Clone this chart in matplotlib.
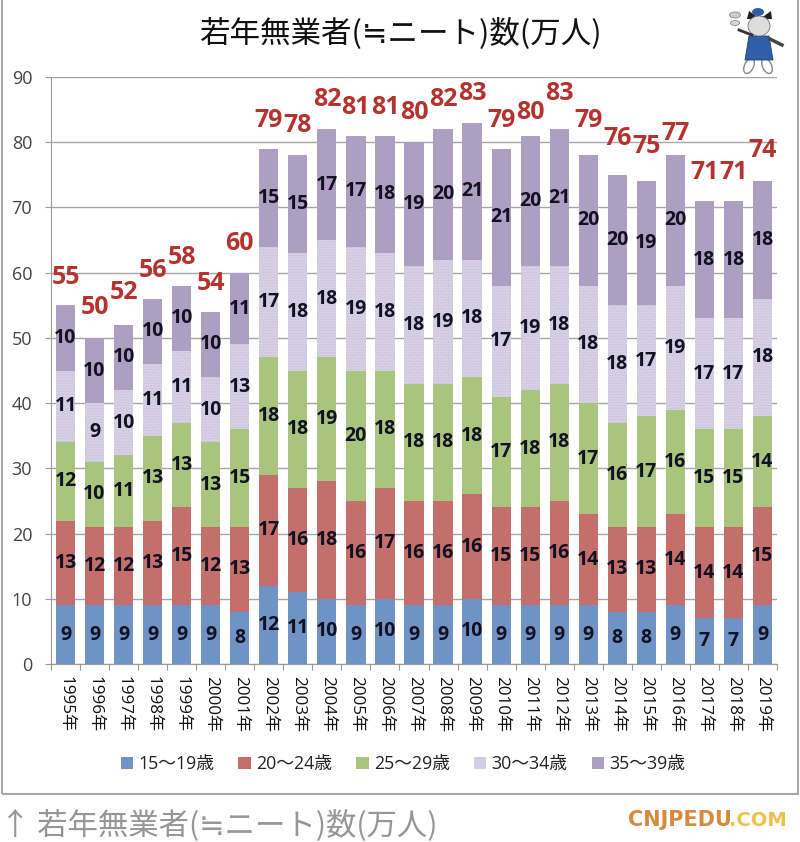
import numpy as np
import matplotlib
matplotlib.use("Agg")
import matplotlib.pyplot as plt
from matplotlib.patches import Rectangle, Ellipse, Polygon

plt.rcParams['font.family'] = ['Open Sans', 'Noto Sans CJK JP', 'DejaVu Sans']
plt.rcParams['hatch.linewidth'] = 0.4

years = [f'{y}年' for y in range(1995, 2020)]
age_15_19 = [9, 9, 9, 9, 9, 9, 8, 12, 11, 10, 9, 10, 9, 9, 10, 9, 9, 9, 9, 8, 8, 9, 7, 7, 9]
age_20_24 = [13, 12, 12, 13, 15, 12, 13, 17, 16, 18, 16, 17, 16, 16, 16, 15, 15, 16, 14, 13, 13, 14, 14, 14, 15]
age_25_29 = [12, 10, 11, 13, 13, 13, 15, 18, 18, 19, 20, 18, 18, 18, 18, 17, 18, 18, 17, 16, 17, 16, 15, 15, 14]
age_30_34 = [11, 9, 10, 11, 11, 10, 13, 17, 18, 18, 19, 18, 18, 19, 18, 17, 19, 18, 18, 18, 17, 19, 17, 17, 18]
age_35_39 = [10, 10, 10, 10, 10, 10, 11, 15, 15, 17, 17, 18, 19, 20, 21, 21, 20, 21, 20, 20, 19, 20, 18, 18, 18]
totals = [55, 50, 52, 56, 58, 54, 60, 79, 78, 82, 81, 81, 80, 82, 83, 79, 80, 83, 79, 76, 75, 77, 71, 71, 74]
series_names = ['15〜19歳', '20〜24歳', '25〜29歳', '30〜34歳', '35〜39歳']

# 合計ラベルは元画像で手動配置されている
total_label_y = [59.3, 54.6, 56.9, 60.4, 62.4, 58.3, 64.4, 83.4, 82.5, 86.5, 85.4, 85.4, 84.5, 86.5, 87.4,
                 83.4, 84.5, 87.4, 83.4, 80.6, 79.4, 81.4, 75.4, 75.4, 78.7]
colors = ['#6f93c4', '#c56f6c', '#a9c47c', '#d6d0e4', '#ad9fc2']
hatches = [None, None, None, '......', None]
W, H = 800, 842

fig = plt.figure(figsize=(W / 100, H / 100), dpi=100, facecolor='white')
ax = fig.add_axes([51 / W, 1 - 664 / H, 726 / W, 587 / H])

x = np.arange(len(years))
bottom = np.zeros(len(years))
for vals, col, hatch, name in zip([age_15_19, age_20_24, age_25_29, age_30_34, age_35_39], colors, hatches, series_names):
    ax.bar(x, vals, 0.66, bottom=bottom, color=col, hatch=hatch, edgecolor='#c2bad6' if hatch else col,
           linewidth=0, label=name, zorder=3)
    for xi, b, v in zip(x, bottom, vals):
        ax.text(xi, b + v / 2, str(v), ha='center', va='center', fontsize=14, fontweight='bold',
                color='#111122', zorder=5)
    bottom += np.array(vals)

for xi, y, t in zip(x, total_label_y, totals):
    ax.text(xi, y, str(t), ha='center', va='center', fontsize=18, fontweight='bold', color='#b5332e', zorder=6)

ax.set_xlim(-0.5, len(years) - 0.5)
ax.set_ylim(0, 90)
ax.set_yticks(range(0, 91, 10))
ax.set_xticks(np.arange(len(years) + 1) - 0.5)
ax.set_xticklabels([])
for xi, name in zip(x, years):
    ax.text(xi, -1.8, name, rotation=-90, ha='center', va='top', fontsize=12.3, color='#111111', clip_on=False)
ax.grid(axis='y', color='#a6a6a6', linewidth=1, zorder=1)
ax.tick_params(axis='y', labelsize=13, labelcolor='#444444', length=4.5, color='#9a9a9a', pad=9)
ax.tick_params(axis='x', length=4.5, color='#9a9a9a')
for side in ['top', 'right']:
    ax.spines[side].set_visible(False)
for side in ['left', 'bottom']:
    ax.spines[side].set_color('#9a9a9a')

leg = fig.legend(loc='center', bbox_to_anchor=(403 / W, 1 - 764 / H), ncol=5, frameon=False, fontsize=12.8,
                 handlelength=0.7, handleheight=0.7, columnspacing=1.35, handletextpad=0.3, labelcolor='#222222')

# 外枠
fig.add_artist(Rectangle((2 / W, 1 - 794 / H), 796 / W, 800 / H, transform=fig.transFigure, fill=False,
                         edgecolor='#a8a8a8', linewidth=1.5))

fig.text(400 / W, 1 - 33 / H, '若年無業者(≒ニート)数(万人)', ha='center', va='center', fontsize=22,
         color='#111111', family=['Noto Sans CJK JP', 'DejaVu Sans'])
fig.text(0, 1 - 826 / H, '↑ 若年無業者(≒ニート)数(万人)', ha='left', va='center', fontsize=21.9, color='#969696',
         family=['Noto Sans CJK JP', 'DejaVu Sans'])
fig.text(628 / W, 1 - 820 / H, 'CNJPEDU', ha='left', va='center', fontsize=15, fontweight='bold', color='#d58a3c',
         family='DejaVu Sans')
fig.text(729 / W, 1 - 820 / H, '.COM', ha='left', va='center', fontsize=14, fontweight='bold', color='#eec04c',
         family='DejaVu Sans')

# 右上のマスコット
m = fig.add_axes([720 / W, 1 - 75 / H, 70 / W, 72 / H])
m.set_xlim(0, 70)
m.set_ylim(72, 0)
m.axis('off')
m.plot([50, 62], [36, 42], color='#444444', lw=2.5)
m.add_patch(Ellipse((29, 63), 9, 16, angle=25, facecolor='white', edgecolor='#888888', lw=1))
m.add_patch(Ellipse((47, 63), 9, 16, angle=-25, facecolor='white', edgecolor='#888888', lw=1))
m.add_patch(Polygon([[29, 33], [49, 33], [53, 57], [25, 57]], facecolor='#2f5fa8', edgecolor='#1c3f7a', lw=0.6))
m.add_patch(Polygon([[27, 16], [29, 8], [36, 13], [44, 13], [51, 8], [52, 16]], facecolor='#222222'))
m.add_patch(Ellipse((39, 23), 22, 20, facecolor='#dddddd', edgecolor='#777777', lw=0.6))
m.add_patch(Ellipse((38, 9), 12, 8, facecolor='#2f5fa8'))
m.plot([19, 32], [27, 32], color='#333333', lw=2)
m.add_patch(Ellipse((15, 12), 11, 6, facecolor='#cccccc', edgecolor='#888888', lw=0.6))
m.add_patch(Ellipse((15, 20), 9, 5, facecolor='#d8d8d8', edgecolor='#888888', lw=0.6))

fig.savefig('out.png', dpi=100)
